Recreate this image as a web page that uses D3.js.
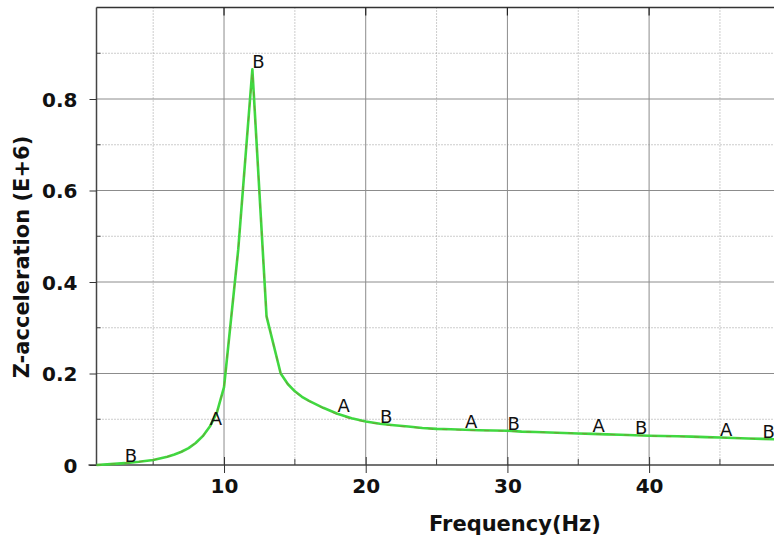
<!DOCTYPE html>
<html><head><meta charset="utf-8">
<script src="https://cdn.jsdelivr.net/npm/d3@7"></script>
<style>
html,body{margin:0;padding:0;background:#fff;}
svg{display:block;}
text{font-family:"DejaVu Sans",sans-serif;}
</style></head>
<body>
<script>
// Frequency (Hz)
const freq = [1,2,3,4,5,6,6.5,7,7.5,8,8.5,9,9.5,10,11,12,13,14,14.5,15,15.5,16,17,18,19,20,21,22,23,24,25,26,27,28,29,30,31,32,33,34,35,36,37,38,39,40,41,42,43,44,45,46,47,48,49,50];
// Z-acceleration (E+6), curve B (green)
const seriesB = [0,0.002,0.004,0.007,0.011,0.018,0.023,0.029,0.037,0.048,0.063,0.084,0.115,0.17,0.47,0.865,0.325,0.2,0.177,0.161,0.149,0.14,0.125,0.112,0.102,0.095,0.09,0.087,0.084,0.081,0.079,0.078,0.077,0.076,0.0755,0.075,0.073,0.072,0.071,0.07,0.069,0.068,0.067,0.066,0.065,0.064,0.0635,0.063,0.062,0.061,0.06,0.059,0.058,0.057,0.056,0.055];
// curve A (brown dashed, nearly identical)
const seriesA = [0,0.002,0.004,0.007,0.011,0.018,0.023,0.029,0.037,0.048,0.063,0.084,0.115,0.17,0.47,0.86,0.325,0.2,0.176,0.16,0.148,0.139,0.124,0.11,0.1,0.094,0.089,0.085,0.083,0.08,0.078,0.077,0.076,0.075,0.075,0.074,0.073,0.072,0.071,0.07,0.069,0.068,0.067,0.066,0.065,0.064,0.062,0.062,0.062,0.06,0.06,0.059,0.058,0.057,0.056,0.055];
const labelsA = [9,18,27,36,45];
const labelsB = [3,12,21,30,39,48];
const xTicks = [10,20,30,40];
const xMinor = [5,15,25,35,45];
const yTicks = [0,0.2,0.4,0.6,0.8];
const yMinor = [0.1,0.3,0.5,0.7,0.9];

(function(){
const W = 774, H = 540;
const svg = d3.select("body").append("svg").attr("width", W).attr("height", H);
const x = d3.scaleLinear().domain([1, 50]).range([96.5, 790.8]);
const y = d3.scaleLinear().domain([0, 1]).range([465, 7.5]);
const pL = x.range()[0], pR = x.range()[1], pT = y.range()[1], pB = y.range()[0];

// grid
const g = svg.append("g");
g.selectAll(".vmin").data(xMinor).enter().append("line")
  .attr("x1", d => x(d)).attr("x2", d => x(d)).attr("y1", pT).attr("y2", pB)
  .attr("stroke", "#9a9a9a").attr("stroke-width", 1).attr("stroke-dasharray", "1,2");
g.selectAll(".hmin").data(yMinor).enter().append("line")
  .attr("x1", pL).attr("x2", pR).attr("y1", d => y(d)).attr("y2", d => y(d))
  .attr("stroke", "#9a9a9a").attr("stroke-width", 1).attr("stroke-dasharray", "1,2");
g.selectAll(".vmaj").data(xTicks).enter().append("line")
  .attr("x1", d => x(d)).attr("x2", d => x(d)).attr("y1", pT).attr("y2", pB)
  .attr("stroke", "#8c8c8c").attr("stroke-width", 1);
g.selectAll(".hmaj").data(yTicks.slice(1)).enter().append("line")
  .attr("x1", pL).attr("x2", pR).attr("y1", d => y(d)).attr("y2", d => y(d))
  .attr("stroke", "#8c8c8c").attr("stroke-width", 1);

// axes
const xAxis = d3.axisBottom(x).tickValues(xTicks).tickSize(8).tickSizeOuter(0).tickFormat(d3.format("d"));
const gx = svg.append("g").attr("transform", `translate(0,${pB})`).call(xAxis);
gx.select(".domain").attr("stroke", "#444").attr("stroke-width", 1.5).attr("d", `M${pL - 8},0H${pR}`);
gx.selectAll(".tick line").attr("stroke", "#333").attr("y1", -8).attr("y2", 8);
gx.selectAll(".tick text").attr("y", 14).attr("font-size", 20).attr("font-weight", "bold").attr("fill", "#111");

const yAxis = d3.axisLeft(y).tickValues(yTicks).tickSize(7).tickSizeOuter(0)
  .tickFormat(d => d === 0 ? "0" : d3.format(".1f")(d));
const gy = svg.append("g").attr("transform", `translate(${pL},0)`).call(yAxis);
gy.select(".domain").attr("stroke", "#444").attr("stroke-width", 1.5).attr("d", `M0,${pB}V${pT}`);
gy.selectAll(".tick line").attr("stroke", "#333");
gy.selectAll(".tick text").attr("x", -19).attr("dy", "0.36em").attr("font-size", 20).attr("font-weight", "bold").attr("fill", "#111");

// minor ticks
svg.selectAll(".ymt").data(yMinor).enter().append("line")
  .attr("x1", pL).attr("x2", pL + 4).attr("y1", d => y(d)).attr("y2", d => y(d)).attr("stroke", "#444");
svg.selectAll(".xmt").data(xMinor).enter().append("line")
  .attr("x1", d => x(d)).attr("x2", d => x(d)).attr("y1", pB - 6).attr("y2", pB).attr("stroke", "#444");
// top border with ticks
svg.append("line").attr("x1", pL).attr("x2", pR).attr("y1", pT).attr("y2", pT).attr("stroke", "#333").attr("stroke-width", 1.5);
svg.selectAll(".xtt").data(xTicks).enter().append("line")
  .attr("x1", d => x(d)).attr("x2", d => x(d)).attr("y1", pT).attr("y2", pT + 8).attr("stroke", "#222").attr("stroke-width", 1.2);

// curves
const data = freq.map((f, i) => ({f, a: seriesA[i], b: seriesB[i]}));
const lineB = d3.line().x(d => x(d.f)).y(d => y(d.b));
const lineA = d3.line().x(d => x(d.f)).y(d => y(d.a));
svg.append("path").datum(data).attr("d", lineB).attr("fill", "none")
  .attr("stroke", "#40d840").attr("stroke-width", 2.6).attr("stroke-linejoin", "round");
svg.append("path").datum(data).attr("d", lineA).attr("fill", "none")
  .attr("stroke", "#9a6a2a").attr("stroke-width", 1).attr("stroke-opacity", 0.5).attr("stroke-dasharray", "5,9");

// point labels
const valAt = f => seriesB[freq.indexOf(f)];
svg.selectAll(".la").data(labelsA).enter().append("text")
  .attr("x", d => x(d)).attr("y", d => y(valAt(d)) - 2)
  .attr("font-size", 18).attr("fill", "#111").text("A");
svg.selectAll(".lb").data(labelsB).enter().append("text")
  .attr("x", d => x(d)).attr("y", d => y(valAt(d)) - 1)
  .attr("font-size", 18).attr("fill", "#111").text("B");

// axis titles
svg.append("text").attr("x", 515).attr("y", 531).attr("text-anchor", "middle")
  .attr("font-size", 21).attr("font-weight", "bold").attr("fill", "#111").text("Frequency(Hz)");
svg.append("text").attr("transform", "translate(29,257) rotate(-90)").attr("text-anchor", "middle")
  .attr("font-size", 21).attr("font-weight", "bold").attr("fill", "#111").text("Z-acceleration (E+6)");
})();
</script>
</body></html>
